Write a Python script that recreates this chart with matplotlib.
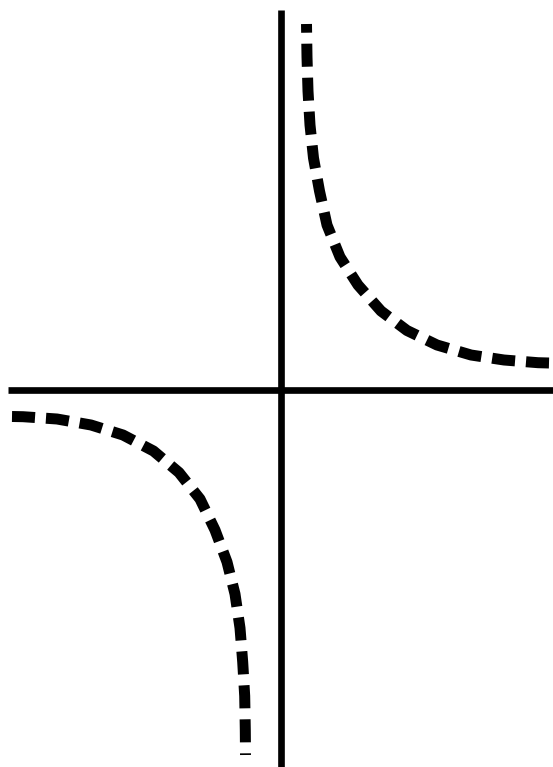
import matplotlib.pyplot as plt

# points (origin at the axes crossing)
upper_x = [0.257, 0.262, 0.272, 0.292, 0.327, 0.387, 0.462, 0.592, 0.772,
           1.002, 1.262, 1.562, 1.902, 2.232, 2.572, 2.682]
upper_y = [3.655, 3.325, 2.985, 2.645, 2.315, 1.985, 1.645, 1.325, 1.045,
           0.785, 0.590, 0.445, 0.345, 0.295, 0.268, 0.265]

lower_x = [-2.688, -2.578, -2.238, -1.898, -1.578, -1.273, -1.018, -0.808,
           -0.658, -0.538, -0.458, -0.408, -0.381, -0.361, -0.355, -0.353]
lower_y = [-0.270, -0.272, -0.295, -0.355, -0.455, -0.615, -0.830, -1.095,
           -1.405, -1.725, -2.045, -2.385, -2.725, -3.065, -3.405, -3.655]

fig = plt.figure(figsize=(5.53, 7.67), dpi=100)
ax = fig.add_axes([0, 0, 1, 1])
ax.set_xlim(-2.808, 2.722)
ax.set_ylim(-3.775, 3.895)
ax.axis('off')

# coordinate axes
ax.plot([-2.728, 2.722], [0, 0], color='black', lw=4.8, solid_capstyle='butt')
ax.plot([0, 0], [-3.775, 3.795], color='black', lw=4.8, solid_capstyle='butt')

# the two branches, dashed
ax.plot(upper_x[::-1], upper_y[::-1], color='black', lw=7.9,
        linestyle=(0, (2.1, 1.0)), dash_capstyle='butt')
ax.plot(lower_x, lower_y, color='black', lw=7.9,
        linestyle=(0, (2.1, 1.0)), dash_capstyle='butt')

fig.savefig('out.png', dpi=100)
